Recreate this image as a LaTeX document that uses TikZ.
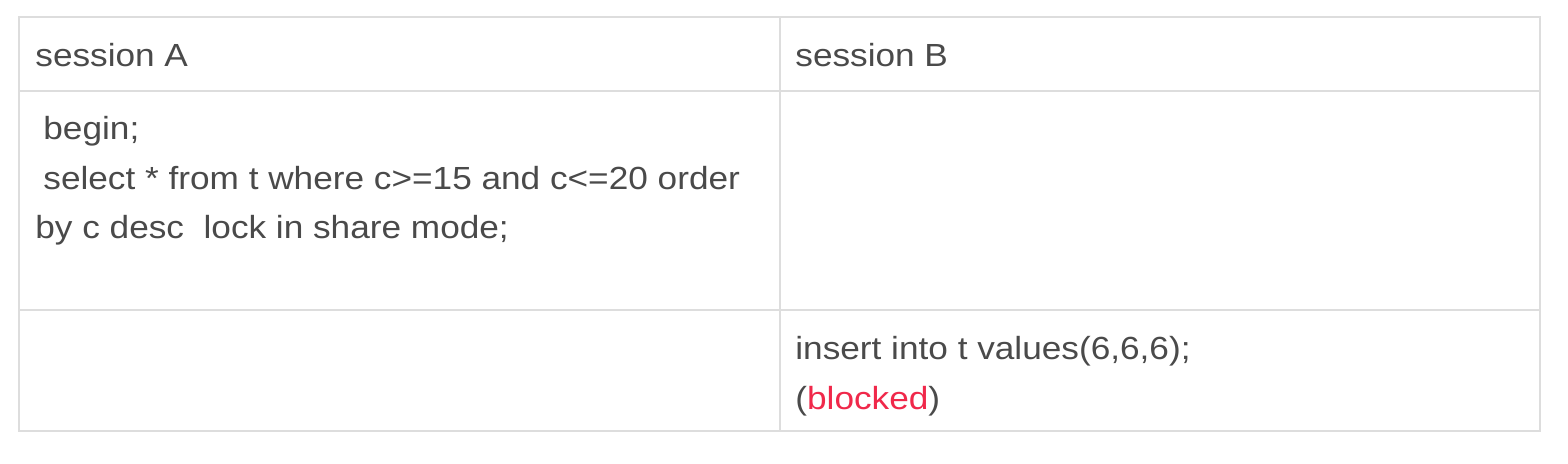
\documentclass[tikz,border=0pt]{standalone}
\usepackage{fontspec}
\setmainfont{Liberation Sans}[FakeStretch=1.1]
\usepackage{tikz}
\usetikzlibrary{positioning}
\definecolor{gridgray}{HTML}{DDDDDD}
\definecolor{textgray}{HTML}{4A4A4A}
\definecolor{blockred}{HTML}{F0284A}

\begin{document}
\begin{tikzpicture}[x=0.5pt, y=-0.5pt,
	cell/.style={anchor=base west, inner sep=0pt, text=textgray, font=\fontsize{16}{25}\selectfont},
	grid/.style={gridgray, line width=1pt}]
	\useasboundingbox[fill=white] (0,0) rectangle (1568,464);
	\pgfmathsetmacro{\colmid}{780}
	% table lines
	\draw[grid] (19,17) rectangle (1540,431);
	\draw[grid] (19,91) -- (1540,91);
	\draw[grid] (19,310) -- (1540,310);
	\draw[grid] (\colmid,17) -- (\colmid,431);
	% header
	\node[cell] (headA) at (35,67) {session A};
	\node[cell] (headB) at (795,67) {session B};
	% session A
	\node[cell] (beginA) at (43,140) {begin;};
	\node[cell] (selectA) at (43,190) {select * from t where c>=15 and c<=20 order};
	\node[cell] (orderA) at (35,239) {by c desc\ \ lock in share mode;};
	% session B
	\node[cell] (insertB) at (795,360) {insert into t values(6,6,6);};
	\node[cell] (blockB) at (795,409) {(\textcolor{blockred}{blocked})};
\end{tikzpicture}
\end{document}
